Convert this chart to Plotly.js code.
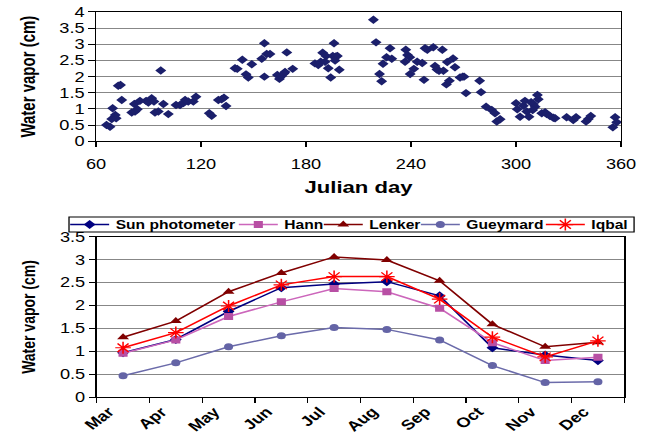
<!DOCTYPE html>
<html>
<head>
<meta charset="utf-8">
<script src="https://cdn.plot.ly/plotly-3.0.1.min.js"></script>
<style>
  html, body { margin: 0; padding: 0; background: #ffffff; overflow: hidden; }
  #wrap { width: 651px; height: 436px; overflow: hidden; }
  #chart { width: 501px; height: 436px; transform: scaleX(1.2994); transform-origin: 0 0; }
</style>
</head>
<body>
<div id="wrap"><div id="chart"></div></div>
<script>
// ---- Top panel: daily water vapor vs Julian day ----
const julianDay = [66, 68, 69, 69.5, 71, 71.5, 72.7, 74, 74.7, 80.4, 81.9, 82.3, 83.6, 85.1, 88.6, 89.9,
  91.8, 93.1, 93.7, 95.6, 97, 98.5, 101.3, 105.7, 108, 109.9, 110.9, 112.7, 115.6, 117.1, 124.7, 126.1,
  129.9, 131.8, 133.1, 134.3, 139.4, 140.7, 143.6, 145.7, 147, 149, 154.7, 156.2, 156.2, 157.5, 159.4,
  163.6, 164.8, 166.1, 167.4, 168, 169, 172.4, 185.1, 187, 188.4, 189.5, 191.4, 190.9, 192.7, 194.1,
  196, 195.3, 197.1, 197.9, 196.6, 199, 218.5, 220, 222, 223.2, 224, 226, 228, 229, 236.6, 237, 238,
  239.3, 239.5, 241.6, 243.5, 246.4, 247.4, 248, 249.3, 252.7, 253.7, 254.8, 256, 257.9, 258.5, 260.2,
  261.9, 260.7, 264, 265.1, 268, 269.5, 270.3, 271.4, 279.2, 280, 282.9, 286.1, 288, 289, 290.9, 300,
  300.7, 302.3, 304.2, 305.1, 306.1, 307.4, 308.6, 309.9, 310.9, 309.5, 312.7, 312.2, 314.7, 316.6,
  317.5, 319.4, 321.3, 322.3, 328.9, 332.7, 334.3, 340, 341.3, 342.7, 355.3, 356.6, 357.5];
const waterVapor = [0.50, 0.45, 0.69, 1.02, 0.81, 0.71, 1.72, 1.74, 1.28, 0.89, 1.15, 0.92, 0.99, 1.25, 1.25, 1.20,
  1.33, 1.23, 0.89, 0.92, 2.19, 1.15, 0.84, 1.12, 1.12, 1.18, 1.28, 1.23, 1.23, 1.38, 0.87, 0.79,
  1.28, 1.30, 1.35, 1.09, 2.26, 2.24, 2.52, 2.07, 1.97, 2.38, 2.55, 3.03, 2.00, 2.70, 2.70,
  2.05, 1.93, 2.02, 2.10, 2.14, 2.75, 2.24, 2.41, 2.36, 2.46, 2.74, 2.64, 2.46, 2.26, 1.97,
  3.03, 2.64, 2.62, 2.64, 2.50, 2.21, 3.76, 3.06, 2.08, 1.86, 2.40, 2.60, 2.88, 2.55, 2.46, 2.83, 2.67,
  2.60, 2.08, 2.24, 2.46, 2.42, 1.90, 2.88, 2.83, 2.91, 2.33, 2.22, 2.18, 2.83, 2.18, 1.76,
  1.87, 2.45, 2.56, 2.29, 1.97, 2.00, 2.00, 1.49, 1.87, 1.52, 1.07, 0.97, 0.87, 0.61, 0.68, 1.18,
  0.99, 0.76, 1.10, 1.25, 0.92, 0.76, 1.21, 1.15, 1.07, 0.97, 1.30, 1.43, 0.87, 0.90,
  0.84, 0.78, 0.73, 0.71, 0.74, 0.66, 0.74, 0.61, 0.69, 0.78, 0.43, 0.74, 0.59];
const dayTicks = [60, 120, 180, 240, 300, 360];

// ---- Bottom panel: monthly means ----
const months = ["Mar", "Apr", "May", "Jun", "Jul", "Aug", "Sep", "Oct", "Nov", "Dec"];
const sunPhotometer = [0.97, 1.26, 1.87, 2.39, 2.47, 2.52, 2.21, 1.08, 0.92, 0.80];
const hann          = [0.96, 1.25, 1.76, 2.08, 2.37, 2.30, 1.94, 1.19, 0.80, 0.87];
const lenker        = [1.31, 1.66, 2.30, 2.71, 3.06, 2.99, 2.54, 1.59, 1.10, 1.20];
const gueymard      = [0.47, 0.75, 1.10, 1.34, 1.52, 1.48, 1.25, 0.69, 0.32, 0.34];
const iqbal         = [1.08, 1.41, 1.99, 2.45, 2.63, 2.63, 2.14, 1.31, 0.88, 1.23];

const FONT = "Liberation Sans, Arial, sans-serif";

const traces = [
  {x: julianDay, y: waterVapor, xaxis: "x", yaxis: "y", type: "scatter", mode: "markers",
   marker: {symbol: "diamond", size: 6.5, color: "#1b1f6b"}, showlegend: false, name: "daily"},
  {x: months, y: sunPhotometer, xaxis: "x2", yaxis: "y2", type: "scatter", mode: "lines+markers",
   name: "Sun photometer", legend: "legend", line: {color: "#000080", width: 1.5},
   marker: {symbol: "diamond", size: 7, color: "#000080"}},
  {x: months, y: hann, xaxis: "x2", yaxis: "y2", type: "scatter", mode: "lines+markers",
   name: "Hann", legend: "legend2", line: {color: "#cc66bb", width: 1.5},
   marker: {symbol: "square", size: 7, color: "#b84fa4"}},
  {x: months, y: lenker, xaxis: "x2", yaxis: "y2", type: "scatter", mode: "lines+markers",
   name: "Lenker", legend: "legend3", line: {color: "#800000", width: 1.5},
   marker: {symbol: "triangle-up", size: 8, color: "#800000"}},
  {x: months, y: gueymard, xaxis: "x2", yaxis: "y2", type: "scatter", mode: "lines+markers",
   name: "Gueymard", legend: "legend4", line: {color: "#6b6baa", width: 1.5},
   marker: {symbol: "circle", size: 7, color: "#6464a6"}},
  {x: months, y: iqbal, xaxis: "x2", yaxis: "y2", type: "scatter", mode: "lines+markers",
   name: "Iqbal", legend: "legend5", line: {color: "#ff0000", width: 1.5},
   marker: {symbol: "asterisk-open", size: 10, color: "#ff0000", line: {color: "#ff0000", width: 1.2}}}
];

function legendAt(xFrac) {
  return {
    orientation: "h", x: xFrac, xanchor: "left", y: 0.485, yanchor: "middle",
    borderwidth: 0, bgcolor: "rgba(0,0,0,0)",
    font: {size: 12, family: FONT, weight: "bold"}, itemwidth: 30
  };
}

const layout = {
  width: 501, height: 436, autosize: false,
  margin: {l: 0, r: 0, t: 0, b: 0},
  paper_bgcolor: "#ffffff", plot_bgcolor: "#ffffff",
  font: {family: FONT, color: "#000000", size: 14},
  showlegend: true,
  xaxis: {
    domain: [0.1475, 0.954], anchor: "y", range: [60, 360], tickvals: dayTicks,
    showgrid: false, zeroline: false, showline: true, linecolor: "#000000", linewidth: 1, mirror: true,
    ticks: "outside", ticklen: 5, tickcolor: "#000000", tickfont: {size: 14, family: FONT},
    ticklabelstandoff: 5,
    title: {text: "Julian day", font: {size: 17, family: FONT, weight: "bold"}, standoff: 10}
  },
  yaxis: {
    domain: [0.676, 0.9725], anchor: "x", range: [0, 4], dtick: 0.5, tick0: 0,
    showgrid: true, gridcolor: "#878787", gridwidth: 1, zeroline: false,
    showline: true, linecolor: "#000000", linewidth: 1, mirror: true,
    ticks: "outside", ticklen: 5, tickcolor: "#000000", tickfont: {size: 14, family: FONT},
    title: {text: "Water vapor (cm)", font: {size: 15, family: FONT, weight: "bold"}, standoff: 14}
  },
  xaxis2: {
    domain: [0.1485, 0.959], anchor: "y2", type: "category", range: [-0.5, 9.5],
    tickson: "boundaries", showgrid: false, zeroline: false,
    showline: true, linecolor: "#000000", linewidth: 1, mirror: true,
    ticks: "outside", ticklen: 5, tickcolor: "#000000", tickangle: -45,
    ticklabelshift: -11,
    tickfont: {size: 14, family: FONT, weight: "bold"}
  },
  yaxis2: {
    domain: [0.0888, 0.4571], anchor: "x2", range: [0, 3.5], dtick: 0.5, tick0: 0,
    showgrid: true, gridcolor: "#878787", gridwidth: 1, zeroline: false,
    showline: true, linecolor: "#000000", linewidth: 1, mirror: true,
    ticks: "outside", ticklen: 5, tickcolor: "#000000", tickfont: {size: 14, family: FONT},
    title: {text: "Water vapor (cm)", font: {size: 14, family: FONT, weight: "bold"}, standoff: 15}
  },
  legend: legendAt(0.0978),
  legend2: legendAt(0.3569),
  legend3: legendAt(0.4874),
  legend4: legendAt(0.6365),
  legend5: legendAt(0.8285),
  shapes: [
    {type: "rect", xref: "paper", yref: "paper", x0: 0.1060, x1: 0.9740, y0: 0.4679, y1: 0.5023,
     line: {color: "#000000", width: 1}, fillcolor: "rgba(0,0,0,0)", layer: "above"}
  ]
};

Plotly.newPlot("chart", traces, layout, {displayModeBar: false, staticPlot: true});
</script>
</body>
</html>
